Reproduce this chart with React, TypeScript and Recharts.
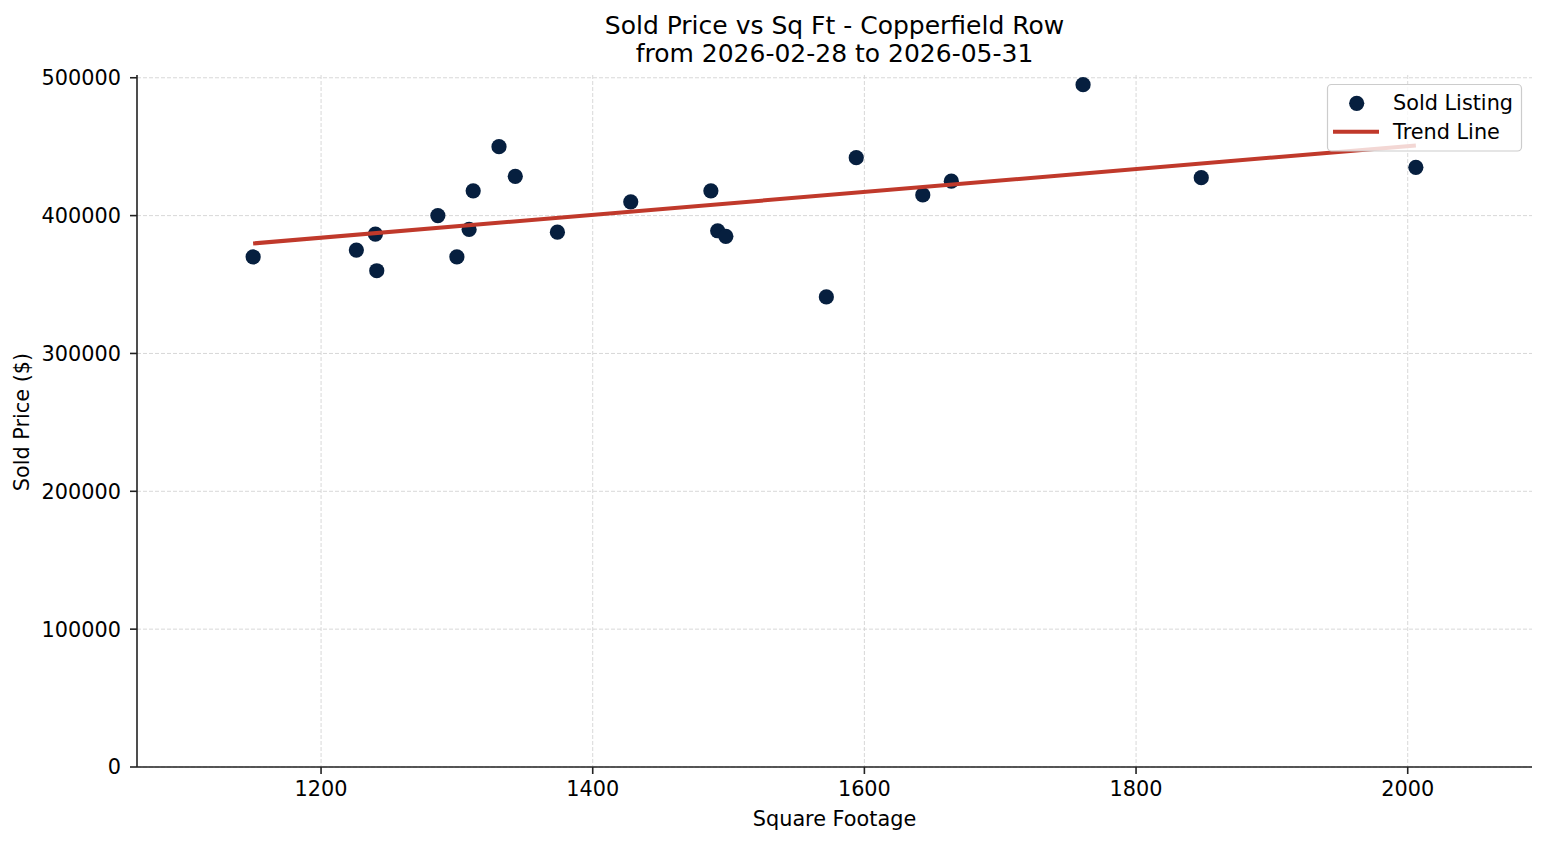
import React from 'react';
import { ScatterChart, Scatter, XAxis, YAxis, CartesianGrid } from 'recharts';

const sqft = [1150, 1226, 1240, 1241, 1286, 1300, 1309, 1312, 1331, 1343, 1374, 1428, 1487, 1492, 1498, 1572, 1594, 1643, 1664, 1761, 1848, 2006];
const price = [370000, 375000, 386500, 360000, 400000, 370000, 390000, 418000, 450000, 428500, 388000, 410000, 418000, 389000, 385000, 341000, 442000, 415000, 425000, 495000, 427500, 435000];
const trendSqft = [1150, 2006];
const trendPrice = [379800, 450900];
const xTicks = [1200, 1400, 1600, 1800, 2000];
const yTicks = [0, 100000, 200000, 300000, 400000, 500000];
const titleLines = ['Sold Price vs Sq Ft - Copperfield Row', 'from 2026-02-28 to 2026-05-31'];
const legendLabels = ['Sold Listing', 'Trend Line'];

const POINT = '#061f3f';
const LINE = '#c0392b';
const FONT = "'DejaVu Sans', sans-serif";
const FS = 20.8;

const points = sqft.map((x, i) => ({ x, y: price[i] }));
const trend = trendSqft.map((x, i) => ({ x, y: trendPrice[i] }));

const Dot = (props: any) => <circle cx={props.cx} cy={props.cy} r={7.6} fill={POINT} />;
const NoDot = () => <g />;

const hGen = (p: any) => {
  const s = p?.yAxis?.scale;
  if (!s) return [];
  const f = typeof s === 'function' ? s : s.map ? (v: number) => s.map(v) : null;
  return f ? yTicks.map((t) => f(t)) : [];
};
const vGen = (p: any) => {
  const s = p?.xAxis?.scale;
  if (!s) return [];
  const f = typeof s === 'function' ? s : s.map ? (v: number) => s.map(v) : null;
  return f ? xTicks.map((t) => f(t)) : [];
};

export default function App() {
  return (
    <div style={{ position: 'relative', width: 1547, height: 845, fontFamily: FONT, background: '#fff' }}>
      <style>{`body{margin:0;}`}</style>
      <ScatterChart width={1547} height={845} margin={{ top: 75, right: 15, bottom: 0, left: 0 }}>
        <CartesianGrid
          stroke="#d4d4d4"
          strokeDasharray="4 2"
          strokeWidth={0.9}
          horizontalCoordinatesGenerator={hGen}
          verticalCoordinatesGenerator={vGen}
        />
        <XAxis
          type="number"
          dataKey="x"
          domain={[1064.5, 2091.5]}
          ticks={xTicks}
          allowDataOverflow
          height={78}
          tickSize={7}
          tickMargin={7}
          axisLine={{ stroke: '#222', strokeWidth: 1.6 }}
          tickLine={{ stroke: '#222', strokeWidth: 1.6 }}
          tick={{ fill: '#000', fontSize: FS, fontFamily: FONT }}
          label={{
            content: () => (
              <text x={834.5} y={825.5} textAnchor="middle" fontSize={FS} fontFamily={FONT} fill="#000">
                Square Footage
              </text>
            ),
          }}
        />
        <YAxis
          type="number"
          dataKey="y"
          domain={[0, 502000]}
          ticks={yTicks}
          allowDataOverflow
          width={137}
          tickSize={7}
          tickMargin={9}
          axisLine={{ stroke: '#222', strokeWidth: 1.6 }}
          tickLine={{ stroke: '#222', strokeWidth: 1.6 }}
          tick={{ fill: '#000', fontSize: FS, fontFamily: FONT }}
          label={{
            content: () => (
              <text x={28.5} y={422} textAnchor="middle" fontSize={FS} fontFamily={FONT} fill="#000" transform="rotate(-90 28.5 422)">
                Sold Price ($)
              </text>
            ),
          }}
        />
        <Scatter data={points} shape={Dot} isAnimationActive={false} />
        <Scatter data={trend} shape={NoDot} line={{ stroke: LINE, strokeWidth: 4 }} isAnimationActive={false} />
      </ScatterChart>
      <svg width={1547} height={845} style={{ position: 'absolute', left: 0, top: 0, pointerEvents: 'none' }}>
        <text x={834.5} y={34} textAnchor="middle" fontSize={25} fontFamily={FONT} fill="#000">{titleLines[0]}</text>
        <text x={834.5} y={62} textAnchor="middle" fontSize={25} fontFamily={FONT} fill="#000">{titleLines[1]}</text>
        <rect x={1327.5} y={84.5} width={194} height={66.5} rx={4} fill="rgba(255,255,255,0.8)" stroke="#cccccc" strokeWidth={1.2} />
        <circle cx={1356.7} cy={103.3} r={7.6} fill={POINT} />
        <line x1={1333} y1={131.7} x2={1379} y2={131.7} stroke={LINE} strokeWidth={4} />
        <text x={1393} y={109.5} fontSize={FS} fontFamily={FONT} fill="#000">{legendLabels[0]}</text>
        <text x={1393} y={138.5} fontSize={FS} fontFamily={FONT} fill="#000">{legendLabels[1]}</text>
      </svg>
    </div>
  );
}
